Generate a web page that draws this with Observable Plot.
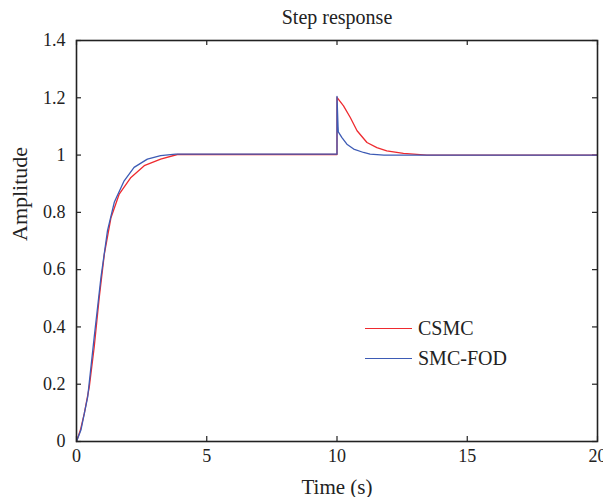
<!DOCTYPE html>
<html><head><meta charset="utf-8">
<script src="https://cdn.jsdelivr.net/npm/d3@7"></script>
<script src="https://cdn.jsdelivr.net/npm/@observablehq/plot@0.6"></script>
<style>
body{margin:0;background:#fff;}
#wrap{position:relative;width:603px;height:497px;font-family:"Liberation Serif",serif;}
#legend{position:absolute;left:365px;top:313px;font-size:20px;color:#222;}
.row{display:flex;align-items:center;height:30px;}
.sw{width:47px;height:0;border-top:1.5px solid;margin-right:6px;}
</style></head><body>
<div id="wrap"><div id="chart"></div>
<div id="legend">
<div class="row"><div class="sw" style="border-color:#ee2a2f"></div>CSMC</div>
<div class="row"><div class="sw" style="border-color:#3d5bb5"></div>SMC-FOD</div>
</div></div>
<script>
const csmcT = [0,0.15,0.3,0.49,0.68,0.87,1.07,1.32,1.64,2.09,2.6,3.23,3.87,10.0,10.0,10.05,10.25,10.51,10.77,11.15,11.53,11.91,12.55,13.45,20];
const csmcA = [0,0.04,0.098,0.19,0.33,0.50,0.655,0.78,0.864,0.922,0.963,0.986,1.002,1.002,1.201,1.195,1.172,1.131,1.085,1.044,1.026,1.015,1.006,1.0,1.0];
const fodT = [0,0.17,0.43,0.68,0.94,1.19,1.45,1.83,2.21,2.72,3.23,3.8,10.0,10.0,10.04,10.05,10.19,10.38,10.64,11.02,11.27,11.8,20];
const fodA = [0,0.04,0.156,0.365,0.574,0.736,0.835,0.91,0.957,0.986,0.998,1.003,1.003,1.205,1.1,1.081,1.061,1.038,1.021,1.009,1.003,1.0,1.0];
const xTicks = [0,5,10,15,20];
const yTicks = [0,0.2,0.4,0.6,0.8,1,1.2,1.4];

const csmc = csmcT.map((t,i)=>({t, a: csmcA[i]}));
const fod = fodT.map((t,i)=>({t, a: fodA[i]}));
const fmt = d => String(+d.toFixed(1));

const W = 603, H = 497, mT = 40, mB = 56, mL = 76, mR = 6;
const fh = H - mT - mB, fw = W - mL - mR, tk = 5;

const chart = Plot.plot({
  width: W, height: H,
  marginTop: mT, marginBottom: mB, marginLeft: mL, marginRight: mR,
  style: {fontFamily: "Liberation Serif, serif", fontSize: "18px", color: "#222", background: "#fff"},
  x: {domain: [0,20]},
  y: {domain: [0,1.4]},
  marks: [
    Plot.axisX({ticks: xTicks, tickSize: 0, tickPadding: 8, tickFormat: fmt, label: null, fontSize: 18}),
    Plot.axisY({ticks: yTicks, tickSize: 0, tickPadding: 11, tickFormat: fmt, label: null, fontSize: 18}),
    Plot.ruleX(xTicks, {x: d => d, insetTop: fh - tk, stroke: "#222", strokeWidth: 1.2}),
    Plot.ruleX(xTicks, {x: d => d, insetBottom: fh - tk, stroke: "#222", strokeWidth: 1.2}),
    Plot.ruleY(yTicks, {y: d => d, insetRight: fw - tk, stroke: "#222", strokeWidth: 1.2}),
    Plot.ruleY(yTicks, {y: d => d, insetLeft: fw - tk, stroke: "#222", strokeWidth: 1.2}),
    Plot.line(csmc, {x: "t", y: "a", stroke: "#ee2a2f", strokeWidth: 1.3}),
    Plot.line(fod, {x: "t", y: "a", stroke: "#3d5bb5", strokeWidth: 1.3}),
    Plot.frame({stroke: "#222", strokeWidth: 1.6}),
    Plot.text(["Step response"], {frameAnchor: "top", dy: -31, fontSize: 20, fill: "#222"}),
    Plot.text(["Time (s)"], {frameAnchor: "bottom", dy: 52, fontSize: 21, fill: "#222"}),
    Plot.text(["Amplitude"], {frameAnchor: "left", dx: -57, rotate: -90, fontSize: 22, fill: "#222"})
  ]
});
document.getElementById("chart").appendChild(chart);
</script></body></html>
